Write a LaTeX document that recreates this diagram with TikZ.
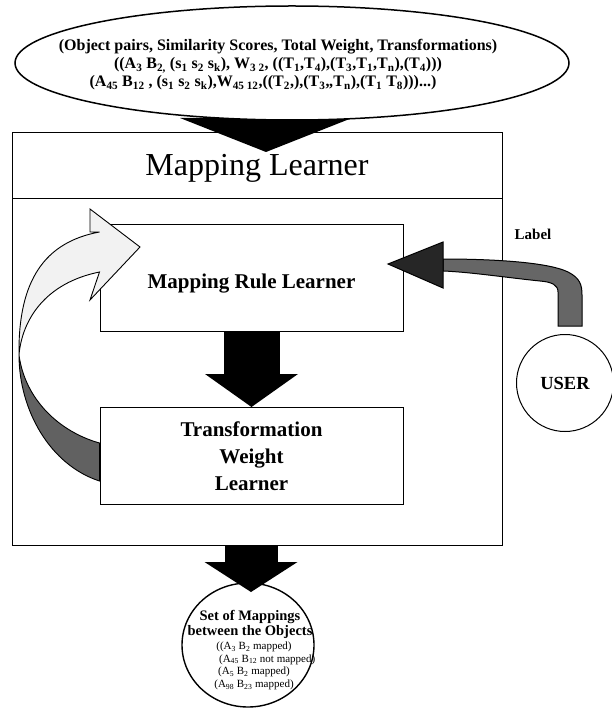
\documentclass[tikz,border=0pt]{standalone}
\usepackage{fontspec}
\setmainfont{Liberation Serif}
\usetikzlibrary{shapes.geometric,arrows.meta,backgrounds,calc}

\newcommand{\sbs}[1]{\textsubscript{#1}}

\tikzset{
    learnerbox/.style={draw, line width=1pt, minimum width=303pt, minimum height=106pt, inner sep=0pt, align=center, font=\bfseries\fontsize{21}{27}\selectfont},
    blockarrow/.style n args={3}{line width=#1, -{Triangle[width=#2,length=#3,line width=0pt]}},
    twistpale/.style={draw, line width=0.9pt, fill=black!5},
    twistdark/.style={draw, line width=0.9pt, fill=black!62},
}

\begin{document}
\begin{tikzpicture}[x=1pt,y=-1pt]
    \useasboundingbox (0,0) rectangle (611,708);

    \node[draw, ellipse, fill=white, line width=1.5pt, minimum width=554pt, minimum height=114pt, inner sep=0pt] (pairsrim) at (292,63) {};
    \node[align=center, inner sep=0pt, font=\bfseries\fontsize{16}{18}\selectfont] (pairs) at (278,65) {(Object pairs, Similarity Scores, Total Weight, Transformations)\\
        ((A\sbs{3} B\sbs{2,}\ (s\sbs{1} s\sbs{2} s\sbs{k}), W\sbs{3 2}, ((T\sbs{1},T\sbs{4}),(T\sbs{3},T\sbs{1},T\sbs{n}),(T\sbs{4})))\hspace*{30pt}\\
        (A\sbs{45} B\sbs{12} , (s\sbs{1} s\sbs{2} s\sbs{k}),W\sbs{45 12},((T\sbs{2},),(T\sbs{3},,T\sbs{n}),(T\sbs{1} T\sbs{8})))...)\hspace*{30pt}};

    \node[draw, line width=1pt, minimum width=490pt, minimum height=412pt, inner sep=0pt] (learner) at (257,339) {};
    \node[draw, line width=1pt, minimum width=490pt, minimum height=66pt, inner sep=0pt, text height=27pt, text depth=7pt, font=\fontsize{32}{36}\selectfont] (learnerhead) at (257,166) {Mapping Learner};

    \node[learnerbox, text height=26pt, text depth=5pt] (mrl) at (251.5,278) {Mapping Rule Learner};
    \node[learnerbox, minimum height=97pt] (twl) at (251.5,456) {Transformation\\Weight\\Learner};

    \node[draw, ellipse, line width=1.4pt, minimum width=132pt, minimum height=124pt, inner sep=0pt] (setm) at (248,645) {};
    \node[align=center, inner sep=0pt, font=\bfseries\fontsize{14.5}{15}\selectfont] (setmhead) at (250,624) {Set of Mappings\\between the Objects};
    \node[align=center, inner sep=0pt, font=\fontsize{11}{12.6}\selectfont] (setmlist) at (254,666) {((A\sbs{3} B\sbs{2} mapped)\\
        \hspace*{2.4em}(A\sbs{45} B\sbs{12} not mapped)\\
        (A\sbs{5} B\sbs{2} mapped)\\
        (A\sbs{98} B\sbs{23} mapped)};

    \node[draw, circle, line width=1pt, minimum size=97pt, inner sep=0pt, font=\bfseries\fontsize{18.5}{18.5}\selectfont] (user) at (565,383) {USER};
    \node[font=\bfseries\fontsize{15}{15}\selectfont] (lbl) at (533,234) {Label};

    \coordinate (toptip) at (266,152);
    \coordinate (maptip) at (251,592);

    \begin{pgfonlayer}{background}
        \draw[blockarrow={104pt}{172pt}{34pt}] (toptip |- pairsrim.center) -- (toptip);
    \end{pgfonlayer}
    \draw[blockarrow={56pt}{93pt}{33pt}] (mrl.south) -- (twl.north);
    \draw[blockarrow={53pt}{93pt}{30pt}] (maptip |- learner.south) -- (maptip);

    \draw[twistdark] (19,355) .. controls (19,410) and (50,465) .. (twl.west |- 0,481) -- (twl.west |- 0,443) .. controls (60,432) and (25,400) .. (19,355) -- cycle;
    \draw[twistpale] (mrl.west |- 0,232) .. controls (45,242) and (18,280) .. (19,355) .. controls (22,320) and (45,283) .. (mrl.west |- 0,272) -- (90,300) -- (140,247) -- (90,209) -- (90,232) -- cycle;

    \draw[line width=1pt, fill=black!60] (443,259) .. controls (500,259) and (550,263) .. (568,272) .. controls (580,278) and (582,285) .. (582,295) -- (582,326) -- (558,326) -- (558,292) .. controls (558,285) and (552,282) .. (540,281) .. controls (510,278) and (470,272) .. (443,271) -- cycle;
    \draw[line width=1pt, fill=black!85] (443,242) -- (388,264) -- (443,288) -- cycle;
\end{tikzpicture}
\end{document}
